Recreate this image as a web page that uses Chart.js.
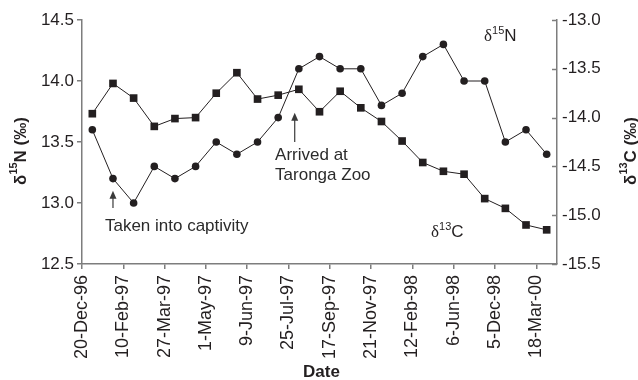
<!DOCTYPE html>
<html>
<head>
<meta charset="utf-8">
<script src="https://cdn.jsdelivr.net/npm/chart.js@4/dist/chart.umd.min.js"></script>
<style>
  html, body { margin: 0; padding: 0; background: #fff; }
  #wrap { width: 638px; height: 380px; }
</style>
</head>
<body>
<div id="wrap"><canvas id="c" width="638" height="380"></canvas></div>
<script>
// Sampling dates shown on the x axis (one label every second sample)
const tickLabels = ['20-Dec-96', '10-Feb-97', '27-Mar-97', '1-May-97', '9-Jun-97', '25-Jul-97',
                    '17-Sep-97', '21-Nov-97', '12-Feb-98', '6-Jun-98', '5-Dec-98', '18-Mar-00'];

// δ15N (‰), left axis
const nitrogen = [13.6, 13.2, 13.0, 13.3, 13.2, 13.3, 13.5, 13.4, 13.5, 13.7, 14.1, 14.2,
                  14.1, 14.1, 13.8, 13.9, 14.2, 14.3, 14.0, 14.0, 13.5, 13.6, 13.4];

// δ13C (‰), right axis
const carbon = [-13.96, -13.65, -13.80, -14.09, -14.01, -14.00, -13.75, -13.54, -13.81, -13.77,
                -13.71, -13.94, -13.73, -13.90, -14.04, -14.24, -14.46, -14.55, -14.58, -14.83,
                -14.93, -15.10, -15.15];

const leftRange = [12.5, 14.5];
const rightRange = [-15.5, -13.0];

const SANS = "'Liberation Sans', Arial, sans-serif";
const SERIF = "'Liberation Serif', 'Times New Roman', serif";
const INK = '#231f20';
const AXIS = '#7d7d7d';

// Annotation anchors in data units (x = sample index, y = δ15N axis value)
const arrows = [
  { x: 1, y0: 12.96, y1: 13.10 },
  { x: 9.8, y0: 13.50, y1: 13.74 }
];
const notes = [
  { x: 0.61, y: 12.806, lines: ['Taken into captivity'] },
  { x: 8.85, y: 13.389, lines: ['Arrived at', 'Taronga Zoo'] }
];
const seriesTags = [
  { x: 18.97, y: 14.328, sup: '15', el: 'N' },
  { x: 16.40, y: 12.721, sup: '13', el: 'C' }
];

const pts = arr => arr.map((v, i) => ({ x: i, y: v }));

function drawRich(ctx, parts, x, y) {
  let cx = x;
  for (const p of parts) {
    ctx.font = p.font;
    ctx.fillText(p.t, cx, y + (p.dy || 0));
    cx += ctx.measureText(p.t).width;
  }
  return cx - x;
}
function richWidth(ctx, parts) {
  let w = 0;
  for (const p of parts) { ctx.font = p.font; w += ctx.measureText(p.t).width; }
  return w;
}

const decor = {
  id: 'decor',
  afterDraw(chart) {
    const { ctx, scales } = chart;
    const xs = scales.x, yl = scales.yN, yr = scales.yC;
    const area = chart.chartArea;
    ctx.save();

    // inward tick marks on the right axis
    ctx.strokeStyle = AXIS;
    ctx.lineWidth = 1.5;
    for (const t of yr.ticks) {
      const py = Math.round(yr.getPixelForValue(t.value)) + 0.5;
      ctx.beginPath();
      ctx.moveTo(area.right, py);
      ctx.lineTo(area.right - 5, py);
      ctx.stroke();
    }

    // arrows
    ctx.strokeStyle = '#3a3a3a';
    ctx.fillStyle = '#3a3a3a';
    ctx.lineWidth = 1.2;
    for (const a of arrows) {
      const px = xs.getPixelForValue(a.x);
      const pb = yl.getPixelForValue(a.y0);
      const pt = yl.getPixelForValue(a.y1);
      ctx.beginPath();
      ctx.moveTo(px, pb);
      ctx.lineTo(px, pt + 6);
      ctx.stroke();
      ctx.beginPath();
      ctx.moveTo(px, pt);
      ctx.lineTo(px - 3.5, pt + 8);
      ctx.lineTo(px + 3.5, pt + 8);
      ctx.closePath();
      ctx.fill();
    }

    // annotation text
    ctx.fillStyle = '#2b2b2b';
    ctx.font = '17px ' + SANS;
    ctx.textAlign = 'left';
    ctx.textBaseline = 'middle';
    for (const n of notes) {
      const px = xs.getPixelForValue(n.x);
      const py = yl.getPixelForValue(n.y);
      n.lines.forEach((line, i) => ctx.fillText(line, px, py + i * 20));
    }

    // series tags (δ15N, δ13C)
    ctx.textBaseline = 'alphabetic';
    ctx.fillStyle = INK;
    for (const s of seriesTags) {
      drawRich(ctx, [
        { t: 'δ', font: '17px ' + SERIF },
        { t: s.sup, font: '11px ' + SANS, dy: -7 },
        { t: s.el, font: '17px ' + SANS }
      ], xs.getPixelForValue(s.x), yl.getPixelForValue(s.y));
    }

    // axis titles
    const bold = sz => 'bold ' + sz + 'px ' + SANS;
    const title = sup => [
      { t: 'δ', font: bold(17) },
      { t: sup, font: bold(11), dy: -7 },
      { t: sup === '15' ? 'N (‰)' : 'C (‰)', font: bold(17) }
    ];
    const cy = (area.top + area.bottom) / 2 + 9;
    for (const [cx, sup] of [[19, '15'], [629, '13']]) {
      const parts = title(sup);
      ctx.save();
      ctx.translate(cx, cy);
      ctx.rotate(-Math.PI / 2);
      ctx.textBaseline = 'middle';
      const w = richWidth(ctx, parts);
      drawRich(ctx, parts, -w / 2, 2);
      ctx.restore();
    }
    ctx.font = bold(17);
    ctx.textAlign = 'center';
    ctx.textBaseline = 'middle';
    ctx.fillText('Date', (area.left + area.right) / 2 + 2, 372);

    ctx.restore();
  }
};

const tickFont = { family: SANS, size: 17 };

new Chart(document.getElementById('c'), {
  type: 'line',
  data: {
    datasets: [
      {
        label: 'δ15N',
        data: pts(nitrogen),
        yAxisID: 'yN',
        borderColor: INK,
        borderWidth: 1,
        pointStyle: 'circle',
        pointRadius: 3.8,
        pointBackgroundColor: INK,
        pointBorderColor: INK,
        pointBorderWidth: 0,
        tension: 0
      },
      {
        label: 'δ13C',
        data: pts(carbon),
        yAxisID: 'yC',
        borderColor: INK,
        borderWidth: 1,
        pointStyle: 'rect',
        pointRadius: 5.4,
        pointBackgroundColor: INK,
        pointBorderColor: INK,
        pointBorderWidth: 0,
        tension: 0
      }
    ]
  },
  options: {
    responsive: false,
    animation: false,
    devicePixelRatio: 1,
    layout: { padding: { top: 20, left: 0, right: 0, bottom: 0 } },
    plugins: { legend: { display: false }, tooltip: { enabled: false } },
    scales: {
      x: {
        type: 'linear',
        min: -0.5,
        max: 22.5,
        afterBuildTicks: s => { s.ticks = tickLabels.map((_, i) => ({ value: -0.5 + 2 * i })); },
        afterFit: s => { s.height = 116; },
        ticks: {
          autoSkip: false,
          minRotation: 90,
          maxRotation: 90,
          padding: 6,
          color: INK,
          font: { family: SANS, size: 18 },
          callback: (v, i) => tickLabels[i]
        },
        grid: { drawOnChartArea: false, tickLength: 5, color: AXIS, lineWidth: 1.5 },
        border: { color: AXIS, width: 1.5 }
      },
      yN: {
        position: 'left',
        min: leftRange[0],
        max: leftRange[1],
        afterFit: s => { s.width = 82; },
        ticks: { stepSize: 0.5, padding: 3, color: INK, font: tickFont, callback: v => v.toFixed(1) },
        grid: { drawOnChartArea: false, tickLength: 5, color: AXIS, lineWidth: 1.5 },
        border: { color: AXIS, width: 1.5 }
      },
      yC: {
        position: 'right',
        min: rightRange[0],
        max: rightRange[1],
        afterFit: s => { s.width = 81; },
        ticks: { stepSize: 0.5, padding: 5, color: INK, font: tickFont, callback: v => v.toFixed(1) },
        grid: { drawOnChartArea: false, drawTicks: false, color: AXIS, lineWidth: 1.5 },
        border: { color: AXIS, width: 1.5 }
      }
    }
  },
  plugins: [decor]
});
</script>
</body>
</html>
